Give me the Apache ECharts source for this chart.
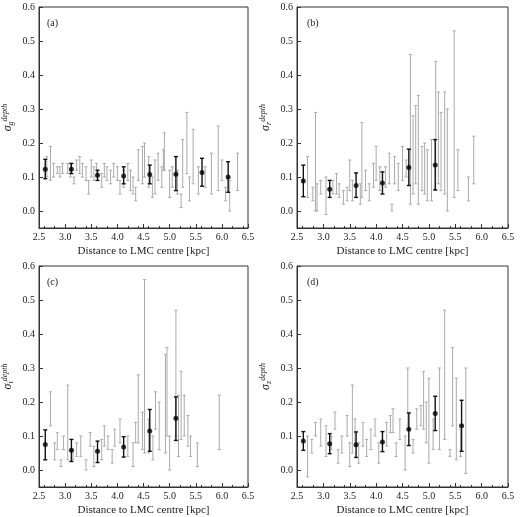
<!DOCTYPE html>
<html><head><meta charset="utf-8">
<script src="https://cdn.jsdelivr.net/npm/echarts@6/dist/echarts.min.js"></script>
<style>html,body{margin:0;background:#fff}#chart{width:520px;height:517px}</style>
</head><body><div id="chart"></div>
<script>
// each bar: [distance, sigma, low, high]
const grayA = [[2.65,0.12,0.10,0.16],[2.72,0.13,0.09,0.19],[2.78,0.12,0.10,0.14],[2.85,0.12,0.11,0.13],[2.9,0.115,0.10,0.13],[2.95,0.12,0.11,0.14],[3.05,0.125,0.11,0.14],[3.1,0.12,0.10,0.14],[3.17,0.09,0.08,0.10],[3.22,0.13,0.12,0.15],[3.28,0.13,0.11,0.16],[3.33,0.12,0.10,0.14],[3.4,0.11,0.09,0.13],[3.45,0.07,0.05,0.09],[3.5,0.12,0.10,0.15],[3.55,0.11,0.09,0.13],[3.6,0.12,0.10,0.14],[3.7,0.09,0.07,0.11],[3.75,0.12,0.10,0.14],[3.8,0.11,0.09,0.13],[3.87,0.1,0.08,0.12],[3.93,0.12,0.10,0.14],[4.0,0.11,0.09,0.13],[4.05,0.07,0.05,0.09],[4.12,0.09,0.07,0.12],[4.2,0.11,0.09,0.14],[4.25,0.09,0.06,0.12],[4.3,0.07,0.05,0.10],[4.35,0.05,0.03,0.07],[4.4,0.12,0.09,0.18],[4.48,0.11,0.08,0.19],[4.52,0.13,0.10,0.20],[4.6,0.1,0.07,0.16],[4.67,0.06,0.04,0.10],[4.72,0.09,0.05,0.15],[4.78,0.12,0.09,0.17],[4.85,0.1,0.07,0.13],[4.88,0.15,0.12,0.18],[4.9,0.17,0.12,0.23],[5.0,0.07,0.04,0.12],[5.05,0.1,0.07,0.13],[5.15,0.08,0.05,0.12],[5.22,0.03,0.01,0.05],[5.25,0.1,0.07,0.21],[5.33,0.18,0.11,0.29],[5.38,0.06,0.03,0.10],[5.45,0.15,0.08,0.24],[5.55,0.09,0.05,0.13],[5.68,0.1,0.07,0.13],[5.8,0.09,0.05,0.17],[5.93,0.15,0.06,0.25],[6.0,0.12,0.09,0.15],[6.07,0.05,0.03,0.07],[6.15,0.05,0.0,0.09],[6.3,0.1,0.06,0.17]];
const blackA = [[2.62,0.123,0.095,0.152],[3.12,0.123,0.11,0.14],[3.62,0.105,0.09,0.12],[4.12,0.103,0.08,0.13],[4.62,0.107,0.08,0.135],[5.12,0.108,0.06,0.16],[5.62,0.113,0.073,0.155],[6.12,0.1,0.055,0.145]];

const grayB = [[2.7,0.1,0.04,0.16],[2.8,0.05,0.03,0.07],[2.85,0.12,0.0,0.29],[2.88,0.05,0.0,0.08],[2.95,0.07,0.05,0.09],[3.05,0.07,-0.01,0.1],[3.18,0.07,0.05,0.09],[3.25,0.08,0.05,0.11],[3.3,0.06,0.04,0.08],[3.38,0.04,0.02,0.06],[3.45,0.05,0.03,0.07],[3.5,0.1,0.06,0.15],[3.55,0.06,0.03,0.09],[3.7,0.05,0.02,0.08],[3.73,0.15,0.04,0.26],[3.8,0.09,0.06,0.12],[3.87,0.05,0.03,0.08],[3.95,0.1,0.07,0.14],[4.0,0.14,0.09,0.19],[4.07,0.09,0.06,0.13],[4.18,0.1,0.07,0.13],[4.25,0.12,0.08,0.17],[4.3,0.01,0.0,0.02],[4.35,0.12,0.08,0.16],[4.42,0.1,0.06,0.14],[4.5,0.13,0.09,0.19],[4.57,0.12,0.1,0.15],[4.65,0.25,0.02,0.46],[4.7,0.12,0.05,0.28],[4.75,0.2,0.08,0.31],[4.8,0.18,0.02,0.34],[4.87,0.12,0.06,0.19],[4.92,0.15,0.05,0.2],[4.97,0.1,0.03,0.18],[5.05,0.1,0.03,0.21],[5.13,0.25,0.06,0.44],[5.18,0.2,0.08,0.35],[5.23,0.18,0.06,0.29],[5.3,0.2,0.05,0.35],[5.35,0.15,0.0,0.3],[5.48,0.28,0.04,0.53],[5.55,0.12,0.06,0.18],[5.75,0.07,0.03,0.1],[5.85,0.15,0.08,0.22]];
const blackB = [[2.62,0.088,0.042,0.135],[3.12,0.064,0.04,0.09],[3.62,0.075,0.04,0.112],[4.12,0.082,0.05,0.115],[4.62,0.128,0.075,0.182],[5.12,0.135,0.062,0.21]];

const grayC = [[2.72,0.18,0.13,0.23],[2.8,0.05,0.03,0.08],[2.85,0.08,0.06,0.11],[2.92,0.02,0.01,0.03],[2.97,0.08,0.06,0.1],[3.05,0.14,0.03,0.25],[3.15,0.04,0.03,0.06],[3.22,0.06,0.04,0.08],[3.3,0.07,0.04,0.1],[3.4,0.01,0.0,0.03],[3.48,0.09,0.07,0.11],[3.55,0.04,0.01,0.07],[3.7,0.06,0.03,0.09],[3.75,0.1,0.07,0.13],[3.82,0.08,0.06,0.1],[3.9,0.04,0.02,0.06],[3.95,0.09,0.07,0.12],[4.05,0.12,0.08,0.15],[4.2,0.07,0.04,0.1],[4.3,0.04,0.01,0.08],[4.35,0.11,0.08,0.14],[4.4,0.18,0.08,0.28],[4.48,0.12,0.06,0.17],[4.52,0.3,0.05,0.56],[4.6,0.1,0.05,0.15],[4.68,0.06,0.03,0.1],[4.73,0.18,0.12,0.23],[4.8,0.12,0.06,0.2],[4.92,0.22,0.05,0.34],[4.95,0.2,0.1,0.36],[5.0,0.05,0.0,0.1],[5.12,0.3,0.1,0.47],[5.17,0.15,0.04,0.22],[5.22,0.18,0.09,0.29],[5.28,0.15,0.1,0.22],[5.35,0.12,0.07,0.16],[5.4,0.07,0.04,0.1],[5.53,0.05,0.01,0.08],[5.95,0.14,0.06,0.22]];
const blackC = [[2.62,0.075,0.03,0.118],[3.12,0.058,0.025,0.09],[3.62,0.055,0.022,0.085],[4.12,0.068,0.038,0.098],[4.62,0.115,0.055,0.178],[5.12,0.152,0.087,0.215]];

const grayD = [[2.7,0.05,-0.02,0.1],[2.78,0.07,0.05,0.09],[2.85,0.12,0.1,0.14],[2.95,0.1,0.07,0.15],[3.05,0.1,0.04,0.13],[3.15,0.08,0.06,0.1],[3.22,0.14,0.12,0.17],[3.28,0.04,0.02,0.06],[3.35,0.08,0.05,0.1],[3.45,0.13,0.1,0.16],[3.5,0.05,0.01,0.08],[3.55,0.15,0.05,0.25],[3.6,0.11,0.07,0.15],[3.67,0.05,0.02,0.08],[3.75,0.1,0.07,0.14],[3.82,0.06,0.04,0.09],[3.9,0.09,0.06,0.12],[3.98,0.13,0.1,0.15],[4.05,0.05,0.02,0.08],[4.2,0.1,0.07,0.14],[4.27,0.14,0.11,0.16],[4.32,0.15,0.11,0.18],[4.38,0.06,0.04,0.08],[4.45,0.12,0.09,0.15],[4.55,0.05,0.0,0.1],[4.6,0.2,0.13,0.3],[4.7,0.07,0.05,0.09],[4.77,0.15,0.12,0.18],[4.85,0.17,0.13,0.19],[4.9,0.2,0.12,0.29],[4.95,0.13,0.08,0.2],[5.0,0.1,0.02,0.27],[5.08,0.1,0.06,0.15],[5.2,0.18,0.06,0.3],[5.3,0.28,0.09,0.47],[5.4,0.05,0.04,0.06],[5.45,0.25,0.13,0.36],[5.52,0.15,0.03,0.27],[5.6,0.08,0.04,0.12],[5.7,0.14,-0.01,0.3]];
const blackD = [[2.62,0.085,0.058,0.113],[3.12,0.077,0.048,0.107],[3.62,0.074,0.037,0.112],[4.12,0.082,0.054,0.113],[4.62,0.12,0.072,0.168],[5.12,0.166,0.116,0.217],[5.62,0.13,0.055,0.205]];

const panelLabels = ['(a)', '(b)', '(c)', '(d)'];
const bandSubs = ['g', 'r', 'i', 'z'];
const xTicks = [2.5, 3.0, 3.5, 4.0, 4.5, 5.0, 5.5, 6.0, 6.5];
const yTicks = [0.0, 0.1, 0.2, 0.3, 0.4, 0.5, 0.6];
const panels = [[grayA, blackA], [grayB, blackB], [grayC, blackC], [grayD, blackD]];

const FONT = 'Liberation Serif';
const grids = [
  {left: 37, top: 7, width: 211, height: 221},
  {left: 297, top: 7, width: 211, height: 221},
  {left: 37, top: 266, width: 211, height: 221},
  {left: 297, top: 266, width: 211, height: 221}
];

function errBar(color, width, cap) {
  return function (params, api) {
    const top = api.coord([api.value(0), api.value(3)]);
    const bot = api.coord([api.value(0), api.value(2)]);
    const st = {stroke: color, lineWidth: width};
    return {type: 'group', children: [
      {type: 'line', shape: {x1: top[0], y1: top[1], x2: bot[0], y2: bot[1]}, style: st},
      {type: 'line', shape: {x1: top[0] - cap, y1: top[1], x2: top[0] + cap, y2: top[1]}, style: st},
      {type: 'line', shape: {x1: bot[0] - cap, y1: bot[1], x2: bot[0] + cap, y2: bot[1]}, style: st}
    ]};
  };
}

const xAxis = [], yAxis = [], series = [], graphic = [];
grids.forEach((g, i) => {
  xAxis.push({
    type: 'value', gridIndex: i, min: 2.5, max: 6.5,
    name: 'Distance to LMC centre [kpc]', nameLocation: 'middle', nameGap: 18,
    nameTextStyle: {fontFamily: FONT, fontSize: 11, color: '#222'},
    axisLine: {onZero: false, lineStyle: {color: '#333'}},
    axisTick: {inside: true, length: 4, customValues: xTicks, lineStyle: {color: '#333'}},
    minorTick: {show: true, splitNumber: 5, length: 2},
    axisLabel: {customValues: xTicks, formatter: v => v.toFixed(1), fontFamily: FONT, fontSize: 10, color: '#222', margin: 4},
    splitLine: {show: false}
  });
  yAxis.push({
    type: 'value', gridIndex: i, min: -0.05, max: 0.6,
    name: '{s|σ}{sub|' + bandSubs[i] + '}{sup|depth}', nameLocation: 'middle', nameGap: 24, nameRotate: 90,
    nameTextStyle: {rich: {
      s: {fontFamily: FONT, fontSize: 12, fontStyle: 'italic', color: '#222'},
      sub: {fontFamily: FONT, fontSize: 8, fontStyle: 'italic', color: '#222', verticalAlign: 'bottom', padding: [6, 0, 0, 0]},
      sup: {fontFamily: FONT, fontSize: 8, fontStyle: 'italic', color: '#222', verticalAlign: 'top', padding: [0, 0, 6, 0]}
    }},
    axisLine: {onZero: false, lineStyle: {color: '#333'}},
    axisTick: {inside: true, length: 4, customValues: yTicks, lineStyle: {color: '#333'}},
    axisLabel: {customValues: yTicks, formatter: v => v.toFixed(1), fontFamily: FONT, fontSize: 10, color: '#222', margin: 4},
    splitLine: {show: false}
  });
  const [gray, black] = panels[i];
  series.push({type: 'custom', xAxisIndex: i, yAxisIndex: i, data: gray, renderItem: errBar('#aaaaaa', 1, 1.5), z: 1});
  series.push({type: 'custom', xAxisIndex: i, yAxisIndex: i, data: black, renderItem: errBar('#111', 1.4, 2), z: 2});
  series.push({type: 'scatter', xAxisIndex: i, yAxisIndex: i, data: black.map(d => [d[0], d[1]]), symbolSize: 5, itemStyle: {color: '#000'}, z: 3});
  graphic.push({type: 'text', left: g.left + 10, top: g.top + 11, style: {text: panelLabels[i], font: '10px "' + FONT + '"', fill: '#222'}});
});

const chart = echarts.init(document.getElementById('chart'), null, {renderer: 'canvas'});
chart.setOption({
  animation: false,
  grid: grids.map(g => Object.assign({show: true, borderColor: '#333', borderWidth: 1, backgroundColor: 'transparent'}, g)),
  xAxis, yAxis, series, graphic
});
</script></body></html>
